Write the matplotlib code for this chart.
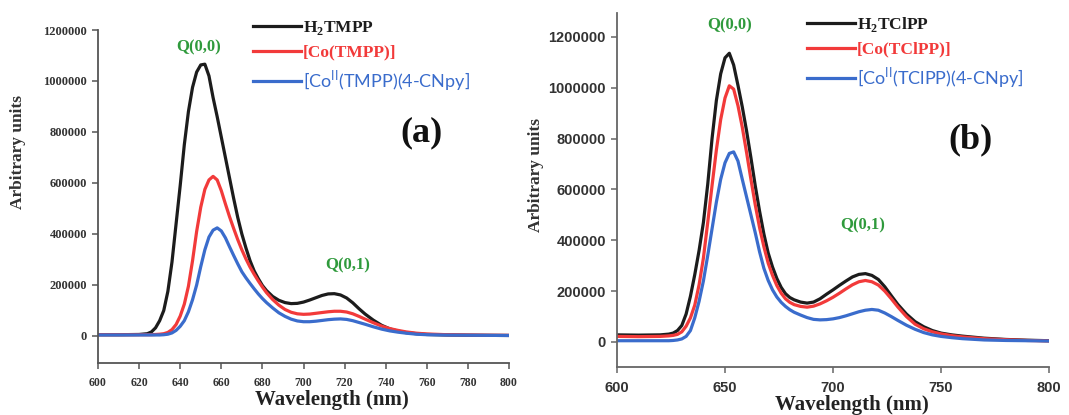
import matplotlib
matplotlib.use("Agg")
import matplotlib.pyplot as plt
from matplotlib.font_manager import FontProperties

plt.rcParams['mathtext.fontset'] = 'custom'
plt.rcParams['mathtext.bf'] = 'Liberation Serif:bold'
plt.rcParams['mathtext.rm'] = 'Liberation Serif'
plt.rcParams['mathtext.sf'] = 'Lato'

# ---------------- data ----------------
wl_a = [600, 610, 620, 624, 626, 628, 630, 632, 634, 636, 638, 640, 642, 644, 646, 648, 650,
        652, 654, 656, 658, 660, 662, 664, 666, 668, 670, 672, 674, 676, 678, 680, 682,
        685, 688, 691, 694, 697, 700, 703, 706, 709, 712, 715, 718, 721, 724, 727, 730,
        734, 738, 742, 746, 750, 755, 760, 770, 780, 790, 800]
h2tmpp = [5000, 5000, 6000, 9000, 16000, 32000, 60000, 100000, 175000, 290000, 440000, 590000,
          750000, 880000, 975000, 1035000, 1063000, 1066000, 1020000, 935000, 860000, 780000,
          700000, 620000, 540000, 465000, 400000, 345000, 295000, 255000, 225000, 198000, 178000,
          155000, 140000, 131000, 127000, 128000, 133000, 141000, 150000, 159000, 165000, 166000,
          161000, 149000, 130000, 107000, 86000,
          62000, 42000, 28000, 19000, 13000, 9000, 6000, 4000, 3000, 2500, 2000]
co_tmpp = [5000, 5000, 5000, 5000, 5000, 6000, 7000, 9000, 14000, 25000, 45000, 78000,
           125000, 195000, 295000, 410000, 505000, 575000, 612000, 626000, 612000, 570000,
           518000, 468000, 422000, 378000, 338000, 302000, 270000, 242000, 216000, 192000, 170000,
           143000, 121000, 104000, 93000, 87000, 85000, 86000, 89000, 92000, 95000, 97000,
           97000, 94000, 87000, 77000, 66000,
           52000, 39000, 29000, 22000, 16000, 11000, 8000, 5000, 4000, 3000, 2500]
co_tmpp_cnpy = [4000, 4000, 4000, 4000, 4000, 4000, 4000, 5000, 7000, 12000, 22000, 38000,
                60000, 95000, 142000, 200000, 272000, 338000, 388000, 415000, 424000, 412000,
                385000, 350000, 316000, 283000, 252000, 228000, 206000, 185000, 165000, 147000, 131000,
                110000, 91000, 77000, 66000, 59000, 56000, 56000, 58000, 61000, 64000, 66000,
                67000, 65000, 60000, 53000, 46000,
                36000, 27000, 20000, 15000, 11000, 7000, 5000, 3500, 3000, 2500, 2000]

wl_b = [600, 610, 620, 624, 626, 628, 630, 632, 634, 636, 638, 640, 642, 644, 646, 648, 650,
        652, 654, 656, 658, 660, 662, 664, 666, 668, 670, 672, 674, 676, 678, 680, 682,
        685, 688, 691, 694, 697, 700, 703, 706, 709, 712, 715, 718, 721, 724, 727, 730,
        734, 738, 742, 746, 750, 755, 760, 770, 780, 790, 800]
h2tclpp = [28000, 27000, 28000, 31000, 35000, 45000, 65000, 110000, 180000, 265000, 360000, 470000,
           620000, 800000, 950000, 1055000, 1118000, 1136000, 1090000, 1010000, 925000, 830000,
           725000, 615000, 515000, 425000, 350000, 295000, 250000, 215000, 190000, 175000, 166000,
           157000, 153000, 157000, 170000, 188000, 205000, 223000, 240000, 256000, 266000, 269000,
           262000, 246000, 217000, 182000, 148000,
           110000, 80000, 60000, 45000, 35000, 28000, 23000, 15000, 10000, 7000, 5000]
co_tclpp = [22000, 21000, 22000, 24000, 26000, 30000, 40000, 62000, 95000, 145000, 225000, 330000,
            470000, 615000, 755000, 875000, 960000, 1008000, 995000, 930000, 845000, 745000,
            640000, 540000, 450000, 375000, 310000, 262000, 222000, 192000, 170000, 156000, 147000,
            140000, 137000, 141000, 150000, 162000, 176000, 192000, 209000, 225000, 237000, 242000,
            237000, 224000, 200000, 170000, 138000,
            100000, 70000, 52000, 40000, 32000, 25000, 20000, 13000, 9000, 6000, 4500]
co_tclpp_cnpy = [5000, 5000, 5000, 5000, 6000, 8000, 12000, 22000, 45000, 95000, 160000, 240000,
                 340000, 445000, 550000, 640000, 705000, 742000, 748000, 712000, 640000, 570000,
                 500000, 430000, 355000, 290000, 242000, 205000, 177000, 156000, 140000, 127000, 117000,
                 106000, 96000, 89000, 87000, 88000, 91000, 96000, 103000, 111000, 119000, 125000,
                 128000, 125000, 114000, 100000, 85000,
                 66000, 50000, 37000, 28000, 22000, 17000, 13000, 8000, 6000, 5000, 4000]

labels_a = ["H$_{\\mathbf{2}}$TMPP", "[Co(TMPP)]", "[Co$^{\\mathsf{II}}$(TMPP)(4-CNpy]"]
labels_b = ["H$_{\\mathbf{2}}$TClPP", "[Co(TClPP)]", "[Co$^{\\mathsf{II}}$(TClPP)(4-CNpy]"]
yticks = [0, 200000, 400000, 600000, 800000, 1000000, 1200000]
xticks_a = list(range(600, 801, 20))
xticks_b = [600, 650, 700, 750, 800]

# ---------------- styling ----------------
COLORS = ['#1c1c1c', '#f23a3a', '#3a6ccc']
GREEN = '#2f9a3c'
LW = 2.3
W, H = 1069, 415
fig = plt.figure(figsize=(W / 100, H / 100), dpi=100)

serif_b = dict(family='Liberation Serif', weight='bold')
sans_b = dict(family='Liberation Sans', weight='bold')


def px_axes(l, t, r, b):
    return fig.add_axes([l / W, 1 - b / H, (r - l) / W, (b - t) / H])


def ftext(x, y, s, **kw):
    fig.text(x / W, 1 - y / H, s, ha='center', va='center', **kw)


def style_axes(ax, tickfont, xsize, ysize, spine_col):
    for s in ['top', 'right']:
        ax.spines[s].set_visible(False)
    for s in ['left', 'bottom']:
        ax.spines[s].set_color(spine_col)
        ax.spines[s].set_linewidth(1.3)
    ax.tick_params(direction='out', length=4, width=1.1, color=spine_col, pad=4)
    for lab in ax.get_xticklabels():
        lab.set_fontfamily(tickfont['family'])
        lab.set_fontweight('bold')
        lab.set_fontsize(xsize)
        lab.set_color('#333333')
    for lab in ax.get_yticklabels():
        lab.set_fontfamily(tickfont['family'])
        lab.set_fontweight('bold')
        lab.set_fontsize(ysize)
        lab.set_color('#333333')


def add_legend(handles, labels, x, y):
    leg = fig.legend(handles, labels, loc='upper left', bbox_to_anchor=(x / W, 1 - y / H),
                     frameon=False, handlelength=2.9, handletextpad=0.1, labelspacing=0.45,
                     borderaxespad=0, borderpad=0, fontsize=12)
    texts = leg.get_texts()
    texts[0].set_fontproperties(FontProperties(family='Liberation Serif', weight='bold', size=12.5))
    texts[1].set_fontproperties(FontProperties(family='Liberation Serif', weight='bold', size=12.5))
    texts[2].set_fontproperties(FontProperties(family='Lato', weight='normal', size=13))
    for t, c in zip(texts, COLORS):
        t.set_color(c)
    for h in leg.legend_handles:
        h.set_linewidth(LW)


# ---------------- panel (a) ----------------
axa = px_axes(98, 30, 509, 363)
hs = []
for ys, c in zip([h2tmpp, co_tmpp, co_tmpp_cnpy], COLORS):
    hs.append(axa.plot(wl_a, ys, color=c, lw=LW, solid_joinstyle='round')[0])
axa.set_xlim(600, 800)
axa.set_ylim(-105900, 1200000)
axa.set_xticks(xticks_a)
axa.set_yticks(yticks)
axa.set_xticklabels([str(v) for v in xticks_a])
axa.set_yticklabels([str(v) for v in yticks])
style_axes(axa, serif_b, 8.5, 9, '#555555')
axa.tick_params(axis='x', pad=6)
add_legend(hs, labels_a, 253, 19)

ftext(332, 400, "Wavelength (nm)", fontsize=15, color='#222222', **serif_b)
ftext(18, 152, "Arbitrary units", fontsize=12.5, rotation=90, color='#333333', **serif_b)
ftext(199, 47, "Q(0,0)", fontsize=12, color=GREEN, **serif_b)
ftext(348, 265, "Q(0,1)", fontsize=12, color=GREEN, **serif_b)
ftext(422, 133, "(a)", fontsize=26, color='#111111', **serif_b)

# ---------------- panel (b) ----------------
axb = px_axes(617, 13, 1049, 367)
hs = []
for ys, c in zip([h2tclpp, co_tclpp, co_tclpp_cnpy], COLORS):
    hs.append(axb.plot(wl_b, ys, color=c, lw=LW, solid_joinstyle='round')[0])
axb.set_xlim(600, 800)
axb.set_ylim(-98400, 1294400)
axb.set_xticks(xticks_b)
axb.set_yticks(yticks)
axb.set_xticklabels([str(v) for v in xticks_b])
axb.set_yticklabels([str(v) for v in yticks])
style_axes(axb, sans_b, 10.5, 10.5, '#666666')
axb.tick_params(axis='x', pad=6)
add_legend(hs, labels_b, 807, 15)

ftext(852, 405, "Wavelength (nm)", fontsize=15, color='#222222', **serif_b)
ftext(536, 175, "Arbitrary units", fontsize=12.5, rotation=90, color='#333333', **serif_b)
ftext(730, 25, "Q(0,0)", fontsize=12, color=GREEN, **serif_b)
ftext(863, 225, "Q(0,1)", fontsize=12, color=GREEN, **serif_b)
ftext(970, 140, "(b)", fontsize=26, color='#111111', **serif_b)

fig.savefig("out.png", dpi=100)
